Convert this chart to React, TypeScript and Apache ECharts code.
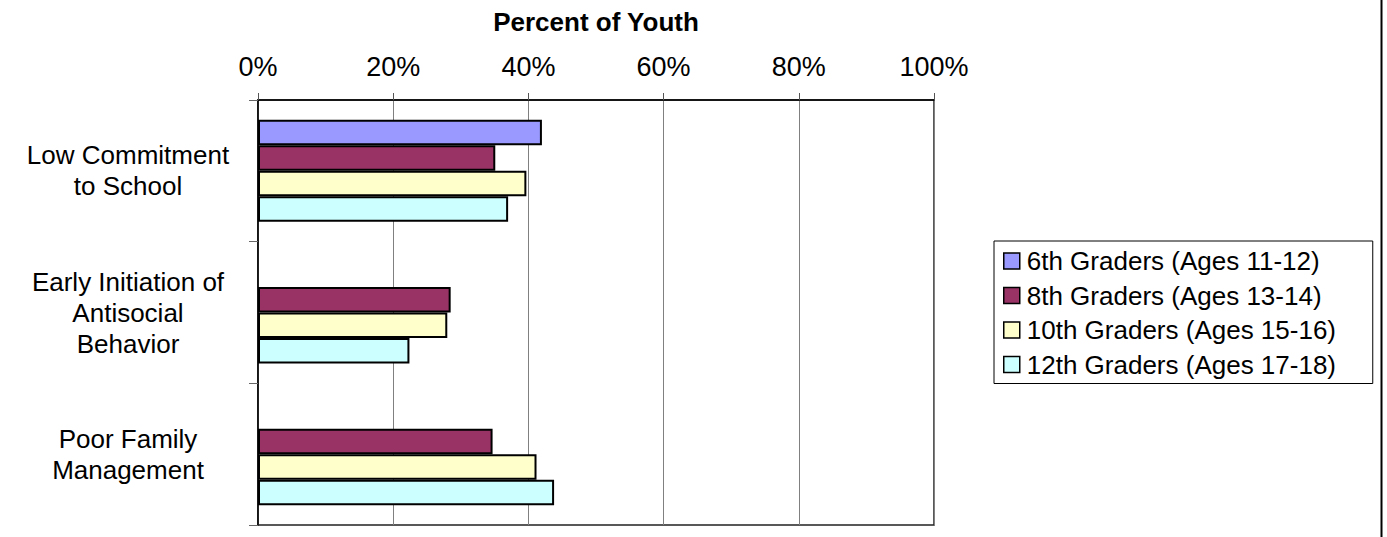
import React, { useEffect, useRef } from "react";
import * as echarts from "echarts";

// Risk-factor categories (top to bottom) and survey results in percent
const categories = [
  "Low Commitment\nto School",
  "Early Initiation of\nAntisocial\nBehavior",
  "Poor Family\nManagement",
];
const seriesNames = [
  "6th Graders (Ages 11-12)",
  "8th Graders (Ages 13-14)",
  "10th Graders (Ages 15-16)",
  "12th Graders (Ages 17-18)",
];
const grade6 = [42.0, null, null];
const grade8 = [35.1, 28.5, 34.7];
const grade10 = [39.7, 28.0, 41.2];
const grade12 = [37.0, 22.4, 43.8];
const xTicks = [0, 20, 40, 60, 80, 100];

const colors = ["#9999FF", "#993366", "#FFFFCC", "#CCFFFF"];
const FONT = "'Liberation Sans', Arial, sans-serif";

export default function App() {
  const ref = useRef<HTMLDivElement>(null);

  useEffect(() => {
    if (!ref.current) return;
    const chart = echarts.init(ref.current, null, { renderer: "svg" });
    const values = [grade6, grade8, grade10, grade12];

    chart.setOption({
      animation: false,
      backgroundColor: "#ffffff",
      textStyle: { fontFamily: FONT, color: "#000" },
      grid: {
        left: 258,
        top: 100,
        width: 676,
        height: 425,
        show: true,
        borderColor: "#222",
        borderWidth: 1.5,
        containLabel: false,
      },
      legend: {
        orient: "vertical",
        left: 994,
        top: 241,
        data: seriesNames,
        icon: "rect",
        itemWidth: 16,
        itemHeight: 16,
        itemGap: 8.5,
        padding: [7, 8, 6, 9],
        borderColor: "#000",
        borderWidth: 1,
        backgroundColor: "#fff",
        itemStyle: { borderColor: "#000", borderWidth: 1.5 },
        textStyle: {
          fontFamily: FONT,
          fontSize: 26,
          color: "#000",
          padding: [0, 0, 0, 2],
          width: 338,
          lineHeight: 24.5,
        },
      },
      xAxis: {
        type: "value",
        position: "top",
        min: xTicks[0],
        max: xTicks[xTicks.length - 1],
        interval: 20,
        name: "Percent of Youth",
        nameLocation: "middle",
        nameGap: 65,
        nameTextStyle: {
          fontFamily: FONT,
          fontSize: 26,
          fontWeight: "bold",
          color: "#000",
        },
        axisLine: { show: true, lineStyle: { color: "#000", width: 1.5 } },
        axisTick: {
          show: true,
          inside: false,
          length: 7,
          lineStyle: { color: "#555", width: 1 },
        },
        axisLabel: {
          formatter: "{value}%",
          fontFamily: FONT,
          fontSize: 27,
          color: "#000",
          margin: 20,
        },
        splitLine: { show: true, lineStyle: { color: "#808080", width: 1 } },
      },
      yAxis: {
        type: "category",
        inverse: true,
        data: categories,
        axisLine: { show: true, lineStyle: { color: "#000", width: 1.5 } },
        axisTick: {
          show: true,
          inside: false,
          length: 9,
          alignWithLabel: false,
          lineStyle: { color: "#666", width: 1 },
        },
        axisLabel: {
          fontFamily: FONT,
          fontSize: 26,
          color: "#000",
          align: "center",
          margin: 130,
          lineHeight: 31,
        },
        splitLine: { show: false },
      },
      series: seriesNames.map((name, i) => ({
        name,
        type: "bar",
        data: values[i],
        barGap: "0%",
        barCategoryGap: "28%",
        itemStyle: {
          color: colors[i],
          borderColor: "#000",
          borderWidth: 2,
        },
      })),
      graphic: [
        {
          type: "line",
          shape: { x1: 1381.5, y1: 0, x2: 1381.5, y2: 537 },
          style: { stroke: "#000", lineWidth: 2 },
        },
      ],
    });

    return () => chart.dispose();
  }, []);

  return (
    <div
      ref={ref}
      style={{ position: "absolute", left: 0, top: 0, width: 1387, height: 537 }}
    />
  );
}
